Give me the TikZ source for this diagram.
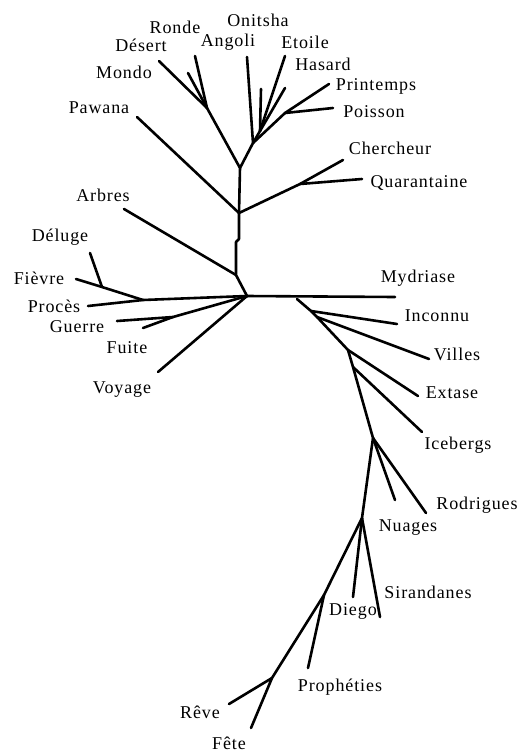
\documentclass[tikz,border=0pt]{standalone}
\usepackage{fontspec}
\setmainfont{Liberation Serif}[LetterSpace=5]
\tikzset{
	branch/.style={line width=2.6pt, line cap=round, line join=round},
	title/.style={font=\fontsize{18}{20}\selectfont, inner sep=0pt}
}
\begin{document}
\begin{tikzpicture}[x=1pt, y=-1pt]
			\useasboundingbox (0,0) rectangle (519,753);
			% inner forks
			\coordinate (R) at (247,296);
			\coordinate (T1) at (236,275);
			\coordinate (T2) at (239,213);
			\coordinate (T3) at (240,168);
			\coordinate (A1) at (207,108);
			\coordinate (A2) at (253,143);
			\coordinate (A3) at (260,131);
			\coordinate (A4) at (285,113);
			\coordinate (C1) at (300,184);
			\coordinate (L1) at (143,300);
			\coordinate (F1) at (102,287);
			\coordinate (G1) at (173,317);
			\coordinate (B1) at (297,299);
			\coordinate (B2) at (311,311);
			\coordinate (B3) at (317,317);
			\coordinate (B4) at (348,350);
			\coordinate (B5) at (353,367);
			\coordinate (B6) at (373,438);
			\coordinate (B7) at (362,518);
			\coordinate (B8) at (324,595);
			\coordinate (B9) at (272,678);
			% leaf ends
			\coordinate (desert) at (159,61);
			\coordinate (mondo) at (188,73);
			\coordinate (ronde) at (195,56);
			\coordinate (angoli) at (247,57);
			\coordinate (onitsha) at (261,89);
			\coordinate (etoile) at (285,56);
			\coordinate (hasard) at (285,88);
			\coordinate (printemps) at (329,84);
			\coordinate (poisson) at (333,108);
			\coordinate (pawana) at (137,117);
			\coordinate (chercheur) at (343,160);
			\coordinate (quarantaine) at (362,179);
			\coordinate (arbres) at (124,209);
			\coordinate (deluge) at (90,253);
			\coordinate (fievre) at (76,279);
			\coordinate (proces) at (88,306);
			\coordinate (guerre) at (117,321);
			\coordinate (fuite) at (143,328);
			\coordinate (voyage) at (158,372);
			\coordinate (mydriase) at (395,297);
			\coordinate (inconnu) at (397,324);
			\coordinate (villes) at (429,359);
			\coordinate (extase) at (418,396);
			\coordinate (icebergs) at (422,432);
			\coordinate (nuages) at (395,500);
			\coordinate (rodrigues) at (426,513);
			\coordinate (diego) at (353,597);
			\coordinate (sirandanes) at (380,617);
			\coordinate (propheties) at (308,668);
			\coordinate (reve) at (229,704);
			\coordinate (fete) at (251,728);
			% upper part
			\draw[branch] (R) -- (T1) -- (236,242) -- (239,239) -- (T2) -- (T3) -- (A1);
			\draw[branch] (A1) -- (desert);
			\draw[branch] (A1) -- (mondo);
			\draw[branch] (A1) -- (ronde);
			\draw[branch] (T3) -- (A2) -- (angoli);
			\draw[branch] (A2) -- (A3) -- (onitsha);
			\draw[branch] (A3) -- (etoile);
			\draw[branch] (A3) -- (hasard);
			\draw[branch] (A2) -- (A4) -- (printemps);
			\draw[branch] (A4) -- (poisson);
			\draw[branch] (T2) -- (pawana);
			\draw[branch] (T2) -- (C1) -- (chercheur);
			\draw[branch] (C1) -- (quarantaine);
			\draw[branch] (T1) -- (arbres);
			% left part
			\draw[branch] (R) -- (L1) -- (proces);
			\draw[branch] (L1) -- (F1) -- (fievre);
			\draw[branch] (F1) -- (deluge);
			\draw[branch] (R) -- (G1) -- (guerre);
			\draw[branch] (G1) -- (fuite);
			\draw[branch] (R) -- (voyage);
			% right and lower part
			\draw[branch] (R) -- (mydriase);
			\draw[branch] (B1) -- (B2) -- (B3) -- (B4) -- (B5) -- (B6) -- (B7) -- (B8) -- (B9);
			\draw[branch] (B2) -- (inconnu);
			\draw[branch] (B3) -- (villes);
			\draw[branch] (B4) -- (extase);
			\draw[branch] (B5) -- (icebergs);
			\draw[branch] (B6) -- (nuages);
			\draw[branch] (B6) -- (rodrigues);
			\draw[branch] (B7) -- (diego);
			\draw[branch] (B7) -- (sirandanes);
			\draw[branch] (B8) -- (propheties);
			\draw[branch] (B9) -- (reve);
			\draw[branch] (B9) -- (fete);
			% labels
			\node[title] (tOnitsha) at (258,20) {Onitsha};
			\node[title] (tRonde) at (175,27) {Ronde};
			\node[title] (tAngoli) at (228,42) {Angoli};
			\node[title] (tEtoile) at (305,42) {Etoile};
			\node[title] (tDesert) at (141,45) {Désert};
			\node[title] (tHasard) at (323,64) {Hasard};
			\node[title] (tMondo) at (124,72) {Mondo};
			\node[title] (tPrintemps) at (376,86) {Printemps};
			\node[title] (tPawana) at (99,108) {Pawana};
			\node[title] (tPoisson) at (374,112) {Poisson};
			\node[title] (tChercheur) at (390,148) {Chercheur};
			\node[title] (tQuarantaine) at (419,183) {Quarantaine};
			\node[title] (tArbres) at (103,195) {Arbres};
			\node[title] (tDeluge) at (60,237) {Déluge};
			\node[title] (tFievre) at (39,278) {Fièvre};
			\node[title] (tMydriase) at (418,278) {Mydriase};
			\node[title] (tProces) at (54,306) {Procès};
			\node[title] (tInconnu) at (437,316) {Inconnu};
			\node[title] (tGuerre) at (77,327) {Guerre};
			\node[title] (tFuite) at (127,348) {Fuite};
			\node[title] (tVilles) at (457,354) {Villes};
			\node[title] (tVoyage) at (122,390) {Voyage};
			\node[title] (tExtase) at (452,393) {Extase};
			\node[title] (tIcebergs) at (458,445) {Icebergs};
			\node[title] (tRodrigues) at (477,505) {Rodrigues};
			\node[title] (tNuages) at (408,528) {Nuages};
			\node[title] (tSirandanes) at (428,592) {Sirandanes};
			\node[title] (tDiego) at (353,611) {Diego};
			\node[title] (tPropheties) at (340,687) {Prophéties};
			\node[title] (tReve) at (200,712) {Rêve};
			\node[title] (tFete) at (229,743) {Fête};
		\end{tikzpicture}
\end{document}
